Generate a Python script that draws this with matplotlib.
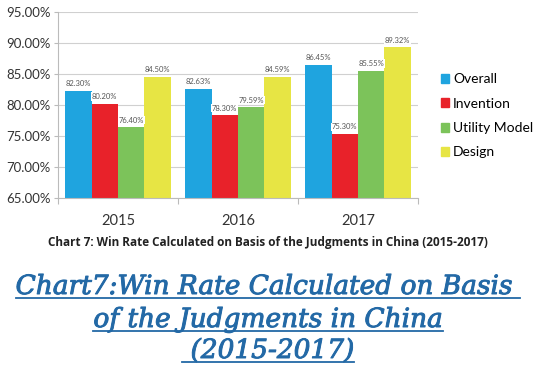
import numpy as np
import matplotlib.pyplot as plt
import matplotlib.patheffects as pe
from matplotlib.lines import Line2D

# Data
years = ["2015", "2016", "2017"]
series = ["Overall", "Invention", "Utility Model", "Design"]
overall = [82.30, 82.63, 86.45]
invention = [80.20, 78.30, 75.30]
utility = [76.40, 79.59, 85.55]
design = [84.50, 84.59, 89.32]
colors = ["#1fa4df", "#e8222a", "#7cc35a", "#e7e544"]

values = [overall, invention, utility, design]

fig = plt.figure(figsize=(5.36, 3.65), dpi=100)
ax = fig.add_axes([0.108, 0.458, 0.672, 0.509])

x = np.arange(len(years))
width = 0.22
for i, (vals, col, name) in enumerate(zip(values, colors, series)):
    pos = x - 1.5 * width + i * width
    ax.bar(pos, np.array(vals) - 65, bottom=65, width=width, color=col, label=name, zorder=2)
    for p, v in zip(pos, vals):
        ax.text(p, v + 0.6, f"{v:.2f}%", ha="center", va="bottom", fontsize=5.5,
                color="#555555", family="Lato",
                bbox=dict(facecolor="white", edgecolor="none", pad=0.5), zorder=3)

ax.set_ylim(65, 95)
ax.set_xlim(-0.5, 2.5)
ax.set_yticks(np.arange(65, 96, 5))
ax.set_yticklabels([f"{t:.2f}%" for t in np.arange(65, 96, 5)], fontsize=9.5,
                   family="Lato", color="#333333")
ax.yaxis.grid(True, color="#d0d0d0", linewidth=0.8, zorder=0)
ax.set_axisbelow(True)
ax.set_xticks([-0.5, 0.5, 1.5, 2.5])
ax.set_xticklabels([])
ax.set_xticks(x, minor=True)
ax.set_xticklabels(years, minor=True, fontsize=10.5, family="Lato", color="#333333")
ax.tick_params(axis="x", which="minor", length=0, pad=12)
ax.tick_params(axis="x", which="major", length=4, color="#bbbbbb")
ax.tick_params(axis="y", length=3, color="#bbbbbb", pad=2)
for s in ["top", "right"]:
    ax.spines[s].set_visible(False)
for s in ["left", "bottom"]:
    ax.spines[s].set_color("#bbbbbb")

handles = [plt.Rectangle((0, 0), 1, 1, color=c) for c in colors]
fig.legend(handles, series, loc="upper left", bbox_to_anchor=(0.822, 0.80),
           frameon=False, prop={"family": "Lato", "size": 10},
           borderpad=0, borderaxespad=0,
           handlelength=0.6, handleheight=0.6, handletextpad=0.3, labelspacing=0.9)

fig.text(0.5, 0.335, "Chart 7: Win Rate Calculated on Basis of the Judgments in China (2015-2017)",
         ha="center", va="center", fontsize=8.5, fontweight="bold", family="Open Sans", color="#222222")

# big underlined title
title_lines = ["Chart7:Win Rate Calculated on Basis ", "of the Judgments in China", " (2015-2017)"]
title_y = [1 - 294 / 365, 1 - 327 / 365, 1 - 358 / 365]
blue = "#2369a6"
texts = []
for line, yy in zip(title_lines, title_y):
    t = fig.text(0.5, yy, line, ha="center", va="baseline", fontsize=19,
                 family="DejaVu Serif", style="italic", color=blue,
                 path_effects=[pe.withStroke(linewidth=0.7, foreground=blue)])
    texts.append(t)

fig.canvas.draw()
r = fig.canvas.get_renderer()
W, H = fig.bbox.width, fig.bbox.height
for t, yy in zip(texts, title_y):
    bb = t.get_window_extent(r)
    ly = yy - 4 / H
    fig.add_artist(Line2D([bb.x0 / W, bb.x1 / W], [ly, ly], color=blue, linewidth=1.3))

fig.savefig("out.png", dpi=100)
